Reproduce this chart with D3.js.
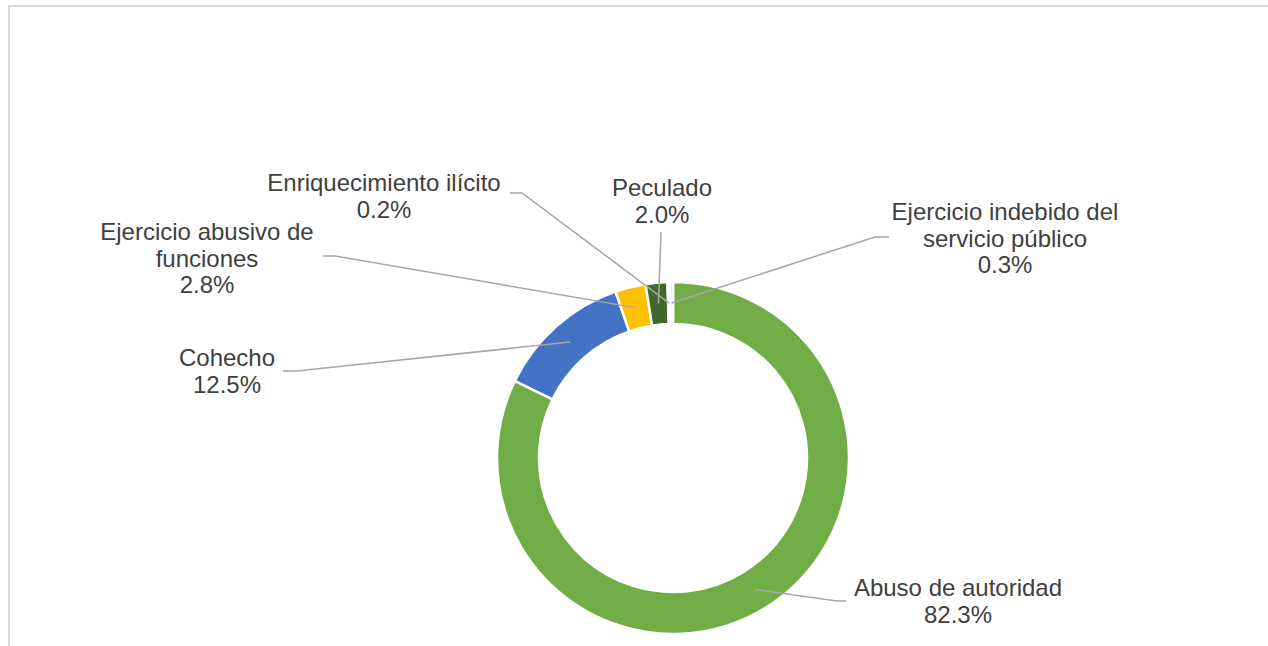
<!DOCTYPE html>
<html>
<head>
<meta charset="utf-8">
<script src="https://cdn.jsdelivr.net/npm/d3@7"></script>
<style>
  html, body { margin: 0; padding: 0; background: #fff; }
  svg { display: block; }
  text { font-family: "Liberation Sans", Arial, sans-serif; fill: #404040; }
</style>
</head>
<body>
<svg id="chart" width="1268" height="646"></svg>
<script>
// ---- Data ----
const categories = [
  "Abuso de autoridad",
  "Cohecho",
  "Ejercicio abusivo de funciones",
  "Peculado",
  "Enriquecimiento ilícito",
  "Ejercicio indebido del servicio público"
];
const values = [82.3, 12.5, 2.8, 2.0, 0.2, 0.3];
const valueLabels = ["82.3%", "12.5%", "2.8%", "2.0%", "0.2%", "0.3%"];
const labelLines = [
  ["Abuso de autoridad"],
  ["Cohecho"],
  ["Ejercicio abusivo de", "funciones"],
  ["Peculado"],
  ["Enriquecimiento ilícito"],
  ["Ejercicio indebido del", "servicio público"]
];
const colors = ["#70AD47", "#4472C4", "#FFC000", "#43682B", "#E2E2E2", "#E8E8E8"];

// ---- Layout (positions of labels / leader elbows) ----
const labelLayout = [
  { cx: 958, y: 596, elbow: [837, 601], end: [846, 601] },
  { cx: 227, y: 366, elbow: [297, 371], end: [283, 371] },
  { cx: 207, y: 240, elbow: [335, 256], end: [323, 256] },
  { cx: 662, y: 196, elbow: [661, 232], end: [661, 232] },
  { cx: 384, y: 191, elbow: [522, 193], end: [510, 193] },
  { cx: 1005, y: 220, elbow: [875, 237], end: [889, 237] }
];

const svg = d3.select("#chart");
const W = 1268, H = 646;

// border
svg.append("path")
  .attr("d", `M9,${H} V6 H${W}`)
  .attr("fill", "none")
  .attr("stroke", "#d9d9d9")
  .attr("stroke-width", 2);

const cx = 673, cy = 458, R = 176, r = 134;

const data = categories.map((c, i) => ({ name: c, value: values[i], idx: i }));
const pie = d3.pie().value(d => d.value).sort(null).startAngle(0).endAngle(2 * Math.PI);
const arcs = pie(data);

const arc = d3.arc().innerRadius(r).outerRadius(R);
const midArc = d3.arc().innerRadius((R + r) / 2).outerRadius((R + r) / 2);

const g = svg.append("g").attr("transform", `translate(${cx},${cy})`);

g.selectAll("path.slice")
  .data(arcs)
  .join("path")
  .attr("class", "slice")
  .attr("d", arc)
  .attr("fill", d => colors[d.data.idx])
  .attr("stroke", "#fff")
  .attr("stroke-width", 2.5)
  .attr("stroke-linejoin", "round");

// leader lines
svg.selectAll("polyline.leader")
  .data(arcs)
  .join("polyline")
  .attr("class", "leader")
  .attr("points", d => {
    const c = midArc.centroid(d);
    const L = labelLayout[d.data.idx];
    return [[cx + c[0], cy + c[1]], L.elbow, L.end].map(p => p.join(",")).join(" ");
  })
  .attr("fill", "none")
  .attr("stroke", "#a6a6a6")
  .attr("stroke-width", 1.5);

// labels
const lineH = 26.5;
arcs.forEach(d => {
  const i = d.data.idx;
  const L = labelLayout[i];
  const t = svg.append("text")
    .attr("text-anchor", "middle")
    .attr("font-size", 24);
  const lines = labelLines[i].concat([valueLabels[i]]);
  lines.forEach((s, k) => {
    t.append("tspan")
      .attr("x", L.cx)
      .attr("y", L.y + k * lineH)
      .text(s);
  });
});
</script>
</body>
</html>
